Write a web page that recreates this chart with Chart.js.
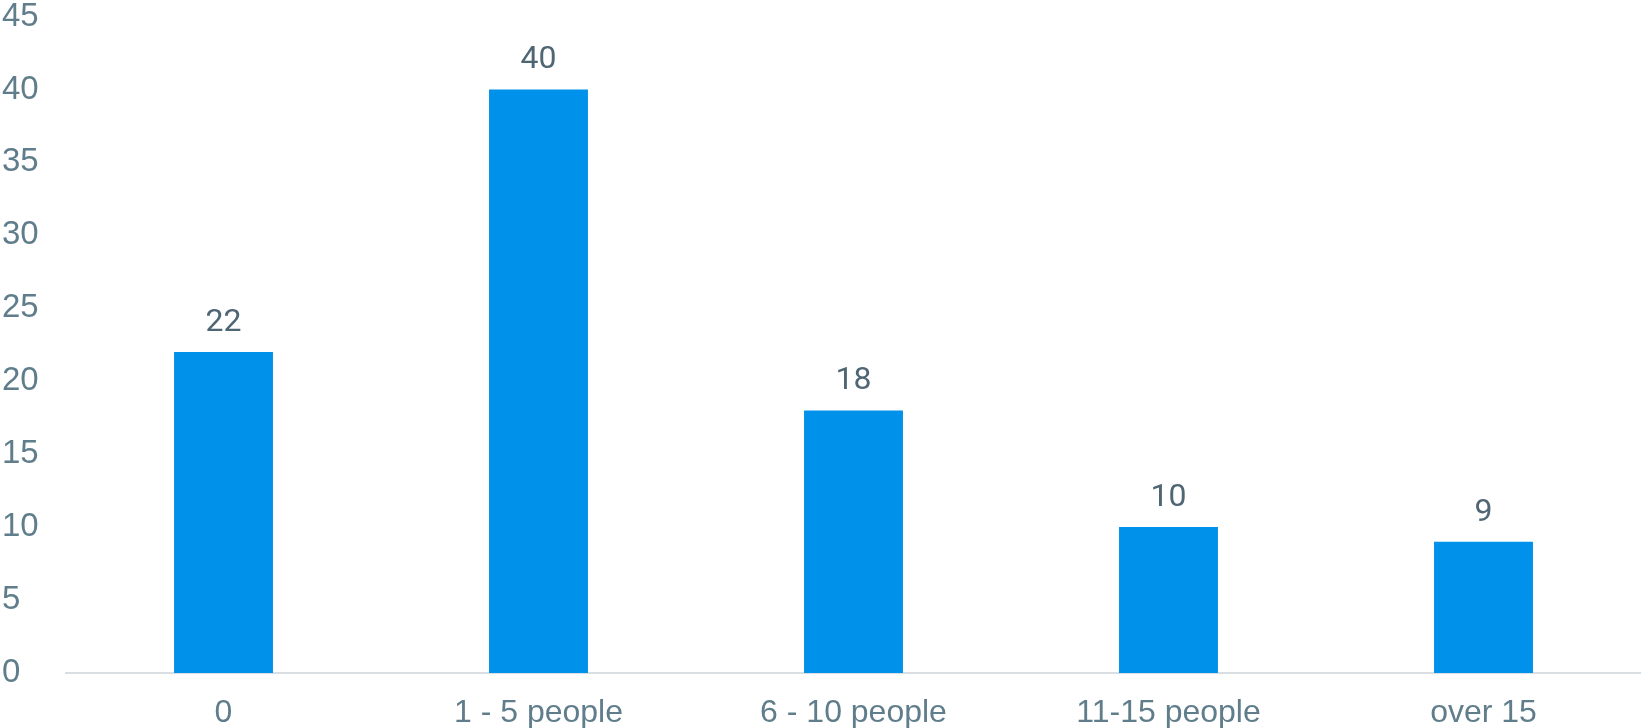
<!DOCTYPE html>
<html>
<head>
<meta charset="utf-8">
<script src="https://cdn.jsdelivr.net/npm/chart.js@4/dist/chart.umd.min.js"></script>
<style>
  html, body { margin: 0; padding: 0; background: #fff; overflow: hidden; }
  #wrap { width: 1641px; height: 728px; position: relative; }
</style>
</head>
<body>
<div id="wrap"><canvas id="teamChart"></canvas></div>
<script>
// Team size groups and how many answered each
const groups = ['0', '1 - 5 people', '6 - 10 people', '11-15 people', 'over 15'];
const counts = [22, 40, 18, 10, 9];
const yTicks = [0, 5, 10, 15, 20, 25, 30, 35, 40, 45];

// Writes the count above each bar
const valueLabels = {
    id: 'valueLabels',
    afterDatasetsDraw(chart) {
        const ctx = chart.ctx;
        const meta = chart.getDatasetMeta(0);
        ctx.save();
        ctx.font = '32px Roboto';
        ctx.fillStyle = '#4f6674';
        ctx.textAlign = 'center';
        ctx.textBaseline = 'alphabetic';
        meta.data.forEach((bar, i) => {
            ctx.fillText(String(counts[i]), bar.x, bar.y - 21);
        });
        ctx.restore();
    }
};

const ctx = document.getElementById('teamChart').getContext('2d');
new Chart(ctx, {
    type: 'bar',
    data: {
        labels: groups,
        datasets: [{
            data: counts,
            backgroundColor: '#0091EA',
            categoryPercentage: 1,
            barPercentage: 0.314
        }]
    },
    options: {
        responsive: true,
        maintainAspectRatio: false,
        animation: false,
        layout: { padding: { left: 2, top: -2, right: 0, bottom: 0 } },
        plugins: {
            legend: { display: false },
            tooltip: { enabled: false }
        },
        scales: {
            x: {
                grid: { display: false, drawTicks: false },
                border: { display: true, color: '#d9dee2', width: 2 },
                afterFit: scale => { scale.height = 55; },
                ticks: {
                    color: '#607D8B',
                    font: { family: 'Liberation Sans, Arial', size: 32, lineHeight: 1 },
                    padding: 24,
                    maxRotation: 0
                }
            },
            y: {
                min: 0,
                max: 45,
                grid: { display: false, drawTicks: false },
                border: { display: false },
                afterBuildTicks: scale => {
                    scale.ticks = yTicks.map(v => ({ value: v }));
                },
                afterFit: scale => { scale.width = 64; },
                ticks: {
                    color: '#607D8B',
                    font: { family: 'Liberation Sans, Arial', size: 33, lineHeight: 1 },
                    crossAlign: 'far',
                    padding: 0
                }
            }
        }
    },
    plugins: [valueLabels]
});
</script>
</body>
</html>
